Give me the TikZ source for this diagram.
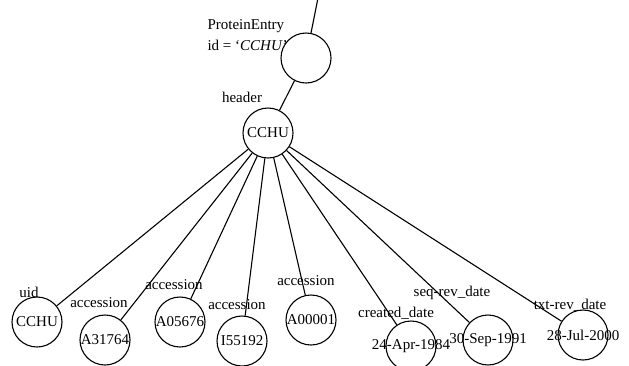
\documentclass[tikz,border=0pt]{standalone}
\usepackage{fontspec}
\setmainfont{Liberation Serif}
\usetikzlibrary{positioning}

\begin{document}
\begin{tikzpicture}[x=1bp,y=-1bp,line width=1.1bp,
            every node/.style={font=\fontsize{15bp}{18bp}\selectfont,inner sep=0pt},
            obj/.style={draw,circle,minimum size=50bp},
            val/.style={obj,label=center:{#1}}]
            \useasboundingbox (0,0) rectangle (629,365);
            \coordinate (R) at (318,-2);
            \node[obj] (Q_0) at (306,58) {};
            \node[val=CCHU] (Q_1) at (268,133) {};
            \node[val=CCHU] (Q_2) at (37,322) {};
            \node[val=A31764] (Q_3) at (105,340) {};
            \node[val=A05676] (Q_4) at (180,322) {};
            \node[val=I55192] (Q_5) at (242,341) {};
            \node[val=A00001] (Q_6) at (311,320) {};
            \node[val=24-Apr-1984] (Q_7) at (411,346) {};
            \node[val=30-Sep-1991] (Q_8) at (488,340) {};
            \node[val=28-Jul-2000] (Q_9) at (583,335) {};
            % edge labels
            \node[anchor=west,align=left] (L_0) at (207,35) {ProteinEntry\\[3bp]id = `\textit{CCHU}'};
            \node (L_1) at (242,97) {header};
            \node (L_2) at (29,292) {uid};
            \node (L_3) at (99,303) {accession};
            \node (L_4) at (174,285) {accession};
            \node (L_5) at (237,305) {accession};
            \node (L_6) at (306,281) {accession};
            \node (L_7) at (396,313) {created\_date};
            \node (L_8) at (452,293) {seq-rev\_date};
            \node (L_9) at (570,305) {txt-rev\_date};
            \path (R) edge (Q_0)
                (Q_0) edge (Q_1)
                (Q_1) edge (Q_2)
                edge (Q_3)
                edge (Q_4)
                edge (Q_5)
                edge (Q_6)
                edge (Q_7)
                edge (Q_8)
                edge (Q_9);
        \end{tikzpicture}
\end{document}
